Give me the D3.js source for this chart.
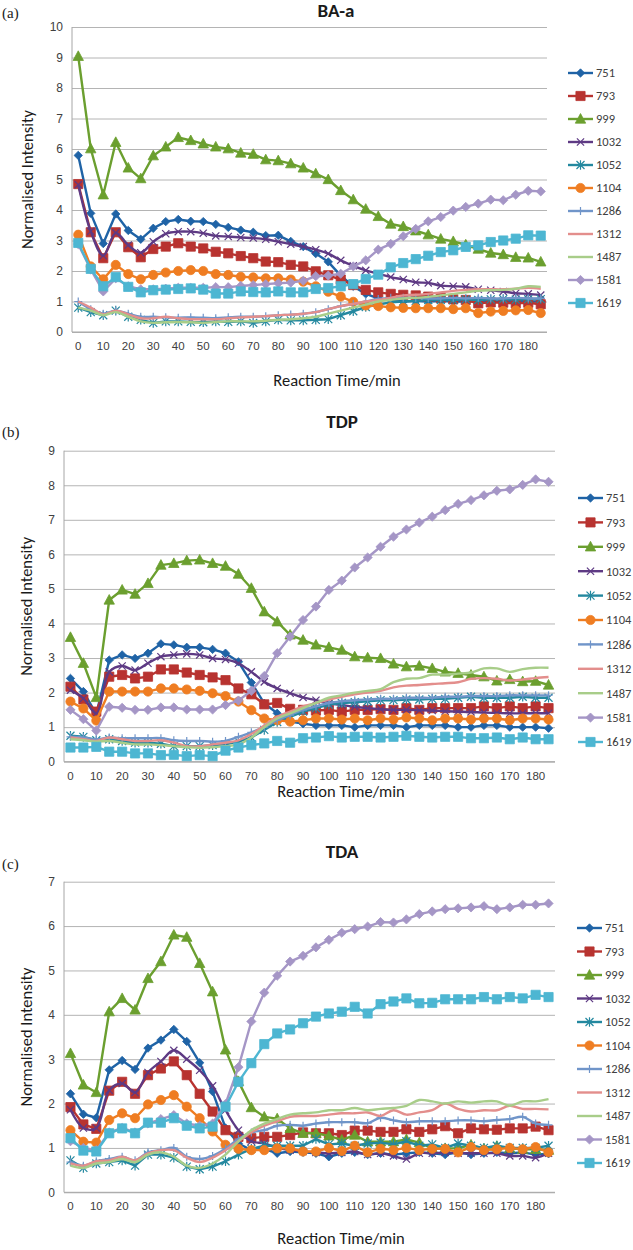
<!DOCTYPE html>
<html>
<head>
<meta charset="utf-8">
<script src="https://cdnjs.cloudflare.com/ajax/libs/d3/7.8.5/d3.min.js"></script>
<style>
  body { margin: 0; background: #fff; }
  svg { display: block; font-family: Carlito, "Open Sans", Lato, "Liberation Sans", sans-serif; }
</style>
</head>
<body>
<svg width="633" height="1250"></svg>
<script>
const minutes = [0, 5, 10, 15, 20, 25, 30, 35, 40, 45, 50, 55, 60, 65, 70, 75, 80, 85, 90, 95,
  100, 105, 110, 115, 120, 125, 130, 135, 140, 145, 150, 155, 160, 165, 170, 175, 180, 185];
const tickMinutes = [0, 10, 20, 30, 40, 50, 60, 70, 80, 90, 100, 110, 120, 130, 140, 150, 160, 170, 180];
const bands = ["751", "793", "999", "1032", "1052", "1104", "1286", "1312", "1487", "1581", "1619"];

// (a) BA-a
const baa751 = [5.79, 3.89, 2.9, 3.87, 3.33, 3.04, 3.4, 3.62, 3.69, 3.63, 3.62, 3.53, 3.43, 3.34, 3.27, 3.16, 3.17, 2.97,
  2.8, 2.57, 2.3, 1.85, 1.5, 1.25, 1.1, 1.05, 1.0, 1.02, 1.0, 1.02, 1.0, 1.0, 1.02, 1.0, 1.0, 1.02, 1.0, 1.0];
const baa793 = [4.85, 3.27, 2.42, 3.27, 2.78, 2.45, 2.72, 2.8, 2.91, 2.8, 2.74, 2.63, 2.58, 2.49, 2.42, 2.31, 2.29, 2.2,
  2.15, 1.99, 1.86, 1.72, 1.54, 1.38, 1.3, 1.25, 1.22, 1.2, 1.16, 1.12, 1.07, 1.05, 0.94, 0.97, 0.96, 0.94, 0.96, 0.91];
const baa999 = [9.04, 6.01, 4.5, 6.22, 5.38, 5.03, 5.78, 6.07, 6.38, 6.28, 6.17, 6.07, 6.01, 5.87, 5.83, 5.65, 5.62, 5.52,
  5.38, 5.19, 5.0, 4.64, 4.34, 4.03, 3.79, 3.54, 3.46, 3.32, 3.19, 3.05, 2.97, 2.86, 2.72, 2.59, 2.54, 2.45, 2.43, 2.3];
const baa1032 = [4.83, 3.3, 2.5, 3.25, 2.85, 2.6, 2.96, 3.22, 3.29, 3.29, 3.24, 3.15, 3.13, 3.1, 3.08, 3.04, 2.96, 2.88,
  2.8, 2.7, 2.57, 2.35, 2.17, 2.02, 1.91, 1.8, 1.72, 1.63, 1.61, 1.52, 1.5, 1.48, 1.4, 1.37, 1.33, 1.27, 1.25, 1.21];
const baa1052 = [0.8, 0.65, 0.55, 0.7, 0.5, 0.4, 0.3, 0.35, 0.35, 0.33, 0.32, 0.35, 0.33, 0.35, 0.3, 0.35, 0.4, 0.38,
  0.38, 0.4, 0.42, 0.55, 0.68, 0.82, 0.9, 0.97, 1.0, 1.02, 1.05, 1.05, 1.05, 1.07, 1.05, 1.07, 1.08, 1.06, 1.08, 1.08];
const baa1104 = [3.19, 2.15, 1.73, 2.2, 1.9, 1.73, 1.87, 1.95, 2.0, 2.03, 2.0, 1.9, 1.87, 1.81, 1.79, 1.76, 1.76, 1.72,
  1.65, 1.5, 1.32, 1.16, 0.99, 0.87, 0.85, 0.81, 0.79, 0.78, 0.78, 0.78, 0.75, 0.78, 0.62, 0.67, 0.69, 0.71, 0.72, 0.62];
const baa1286 = [1.0, 0.75, 0.6, 0.7, 0.6, 0.5, 0.5, 0.48, 0.47, 0.48, 0.47, 0.45, 0.48, 0.5, 0.5, 0.52, 0.55, 0.57,
  0.6, 0.65, 0.75, 0.85, 0.92, 1.0, 1.08, 1.12, 1.12, 1.12, 1.1, 1.1, 1.12, 1.1, 1.12, 1.1, 1.1, 1.12, 1.1, 1.1];
const baa1312 = [1.0, 0.8, 0.58, 0.7, 0.58, 0.45, 0.45, 0.5, 0.45, 0.42, 0.42, 0.42, 0.45, 0.48, 0.5, 0.52, 0.55, 0.57,
  0.6, 0.65, 0.75, 0.85, 0.92, 1.0, 1.05, 1.12, 1.2, 1.22, 1.25, 1.3, 1.35, 1.38, 1.4, 1.4, 1.4, 1.42, 1.45, 1.42];
const baa1487 = [0.8, 0.7, 0.55, 0.65, 0.5, 0.35, 0.3, 0.32, 0.33, 0.32, 0.3, 0.33, 0.35, 0.35, 0.35, 0.37, 0.4, 0.42,
  0.45, 0.5, 0.6, 0.7, 0.8, 0.9, 1.0, 1.05, 1.1, 1.12, 1.15, 1.2, 1.25, 1.3, 1.35, 1.37, 1.38, 1.42, 1.5, 1.48];
const baa1581 = [2.88, 2.05, 1.33, 1.76, 1.5, 1.4, 1.4, 1.42, 1.45, 1.45, 1.45, 1.47, 1.47, 1.51, 1.54, 1.57, 1.6, 1.62,
  1.68, 1.83, 1.85, 1.91, 2.15, 2.35, 2.7, 2.89, 3.14, 3.38, 3.63, 3.77, 3.98, 4.1, 4.21, 4.34, 4.32, 4.5, 4.63, 4.61];
const baa1619 = [2.92, 2.07, 1.5, 1.8, 1.48, 1.3, 1.37, 1.39, 1.41, 1.43, 1.39, 1.26, 1.26, 1.33, 1.31, 1.3, 1.33, 1.3,
  1.3, 1.41, 1.44, 1.5, 1.57, 1.74, 1.88, 2.12, 2.26, 2.39, 2.5, 2.62, 2.68, 2.79, 2.84, 2.95, 3.0, 3.06, 3.17, 3.16];

// (b) TDP
const tdp751 = [2.41, 2.03, 1.38, 2.94, 3.09, 2.99, 3.14, 3.41, 3.38, 3.31, 3.31, 3.25, 3.14, 2.89, 2.29, 1.69, 1.4, 1.16,
  1.1, 1.05, 1.05, 1.05, 1.0, 1.05, 1.05, 1.05, 1.0, 1.05, 1.05, 1.05, 1.0, 1.0, 1.05, 1.05, 1.0, 1.0, 1.0, 0.97];
const tdp793 = [2.17, 1.8, 1.45, 2.46, 2.51, 2.41, 2.46, 2.67, 2.67, 2.58, 2.51, 2.44, 2.36, 2.12, 1.95, 1.66, 1.7, 1.53,
  1.5, 1.48, 1.5, 1.45, 1.5, 1.5, 1.52, 1.5, 1.55, 1.5, 1.55, 1.55, 1.55, 1.55, 1.6, 1.55, 1.6, 1.55, 1.6, 1.55];
const tdp999 = [3.6, 2.85, 1.86, 4.68, 4.97, 4.85, 5.16, 5.69, 5.74, 5.82, 5.84, 5.74, 5.66, 5.43, 5.02, 4.34, 4.05, 3.67,
  3.52, 3.38, 3.31, 3.23, 3.04, 3.01, 2.99, 2.83, 2.75, 2.77, 2.7, 2.6, 2.56, 2.51, 2.46, 2.34, 2.38, 2.32, 2.33, 2.22];
const tdp1032 = [2.07, 1.83, 1.4, 2.6, 2.77, 2.65, 2.85, 3.04, 3.09, 3.12, 3.09, 2.99, 2.96, 2.85, 2.6, 2.31, 2.12, 1.98,
  1.86, 1.78, 1.69, 1.64, 1.59, 1.55, 1.52, 1.5, 1.5, 1.49, 1.48, 1.46, 1.45, 1.44, 1.42, 1.41, 1.4, 1.4, 1.4, 1.4];
const tdp1052 = [0.75, 0.72, 0.62, 0.65, 0.6, 0.55, 0.55, 0.52, 0.45, 0.45, 0.45, 0.48, 0.5, 0.58, 0.7, 0.92, 1.15, 1.3,
  1.45, 1.55, 1.65, 1.7, 1.72, 1.75, 1.78, 1.78, 1.8, 1.8, 1.82, 1.82, 1.85, 1.88, 1.85, 1.85, 1.85, 1.88, 1.85, 1.85];
const tdp1104 = [1.74, 1.54, 1.19, 2.03, 2.03, 2.03, 2.03, 2.12, 2.12, 2.09, 2.05, 1.98, 1.9, 1.74, 1.49, 1.25, 1.2, 1.16,
  1.2, 1.25, 1.25, 1.22, 1.25, 1.2, 1.25, 1.22, 1.28, 1.25, 1.2, 1.25, 1.25, 1.22, 1.25, 1.25, 1.2, 1.25, 1.25, 1.22];
const tdp1286 = [0.72, 0.7, 0.65, 0.7, 0.68, 0.68, 0.68, 0.68, 0.62, 0.6, 0.6, 0.58, 0.6, 0.72, 0.85, 1.0, 1.2, 1.35,
  1.5, 1.6, 1.7, 1.75, 1.78, 1.8, 1.82, 1.82, 1.85, 1.85, 1.85, 1.88, 1.88, 1.9, 1.9, 1.9, 1.92, 1.92, 1.92, 1.92];
const tdp1312 = [0.7, 0.65, 0.6, 0.7, 0.65, 0.6, 0.6, 0.62, 0.55, 0.45, 0.45, 0.5, 0.55, 0.62, 0.8, 1.05, 1.3, 1.45,
  1.6, 1.7, 1.8, 1.88, 1.95, 2.0, 2.05, 2.15, 2.2, 2.22, 2.25, 2.27, 2.3, 2.4, 2.42, 2.4, 2.35, 2.38, 2.42, 2.45];
const tdp1487 = [0.65, 0.62, 0.58, 0.6, 0.55, 0.5, 0.5, 0.48, 0.45, 0.42, 0.4, 0.42, 0.45, 0.5, 0.7, 1.0, 1.25, 1.4,
  1.55, 1.7, 1.85, 1.92, 2.0, 2.05, 2.1, 2.3, 2.4, 2.42, 2.52, 2.52, 2.55, 2.58, 2.7, 2.7, 2.6, 2.68, 2.72, 2.72];
const tdp1581 = [1.5, 1.23, 0.9, 1.59, 1.56, 1.5, 1.5, 1.57, 1.57, 1.51, 1.51, 1.51, 1.64, 1.77, 2.05, 2.48, 3.14, 3.62,
  4.1, 4.49, 4.97, 5.24, 5.62, 5.91, 6.22, 6.51, 6.72, 6.92, 7.09, 7.28, 7.46, 7.57, 7.71, 7.84, 7.88, 8.01, 8.17, 8.1];
const tdp1619 = [0.41, 0.41, 0.43, 0.29, 0.29, 0.24, 0.24, 0.19, 0.2, 0.16, 0.19, 0.16, 0.32, 0.41, 0.48, 0.53, 0.6, 0.55,
  0.68, 0.7, 0.74, 0.7, 0.72, 0.72, 0.7, 0.72, 0.75, 0.72, 0.7, 0.72, 0.72, 0.68, 0.68, 0.7, 0.65, 0.7, 0.65, 0.65];

// (c) TDA
const tda751 = [2.22, 1.76, 1.68, 2.76, 2.97, 2.77, 3.25, 3.43, 3.67, 3.4, 2.92, 2.27, 1.45, 1.1, 0.95, 0.98, 0.88, 0.92,
  0.9, 0.88, 0.8, 0.88, 0.9, 0.85, 0.88, 0.85, 0.88, 0.9, 0.88, 0.85, 0.9, 0.85, 0.88, 0.9, 0.88, 0.9, 0.85, 0.87];
const tda793 = [1.92, 1.53, 1.43, 2.29, 2.49, 2.22, 2.64, 2.79, 2.95, 2.64, 2.22, 1.82, 1.4, 1.25, 1.22, 1.25, 1.25, 1.29,
  1.35, 1.33, 1.33, 1.29, 1.39, 1.39, 1.36, 1.36, 1.42, 1.36, 1.42, 1.49, 1.33, 1.44, 1.42, 1.41, 1.44, 1.44, 1.48, 1.4];
const tda999 = [3.13, 2.42, 2.25, 4.07, 4.37, 4.11, 4.82, 5.2, 5.8, 5.75, 5.16, 4.52, 3.21, 2.5, 1.91, 1.7, 1.66, 1.44,
  1.33, 1.33, 1.27, 1.18, 1.29, 1.14, 1.14, 1.14, 1.19, 1.12, 0.99, 0.99, 0.99, 1.07, 0.98, 1.04, 0.99, 0.97, 0.97, 0.95];
const tda1032 = [1.86, 1.45, 1.45, 2.3, 2.45, 2.25, 2.7, 2.95, 3.2, 3.0, 2.75, 2.4, 1.85, 1.4, 1.15, 1.1, 1.0, 0.95,
  0.92, 0.9, 0.88, 0.9, 0.92, 0.85, 0.88, 0.82, 0.75, 0.88, 0.88, 0.9, 0.88, 0.88, 0.88, 0.88, 0.82, 0.82, 0.78, 0.88];
const tda1052 = [0.72, 0.55, 0.65, 0.68, 0.72, 0.6, 0.85, 0.85, 0.78, 0.58, 0.52, 0.58, 0.7, 0.85, 0.98, 1.05, 1.05, 1.05,
  1.05, 1.2, 1.08, 1.1, 1.05, 1.1, 1.12, 1.08, 1.15, 1.05, 1.08, 1.0, 1.1, 1.05, 1.0, 1.05, 1.0, 1.0, 1.0, 1.05];
const tda1104 = [1.4, 1.14, 1.12, 1.63, 1.78, 1.67, 1.98, 2.08, 2.19, 1.93, 1.67, 1.37, 1.07, 0.98, 0.95, 0.95, 0.99, 0.99,
  0.92, 0.92, 1.0, 0.93, 1.05, 0.9, 0.98, 0.95, 1.0, 0.95, 0.98, 0.98, 0.9, 1.02, 0.95, 0.97, 1.0, 0.97, 1.02, 0.9];
const tda1286 = [0.68, 0.6, 0.7, 0.75, 0.8, 0.72, 0.9, 0.95, 1.0, 0.8, 0.75, 0.82, 0.98, 1.2, 1.35, 1.4, 1.5, 1.52,
  1.5, 1.55, 1.58, 1.58, 1.58, 1.56, 1.68, 1.62, 1.58, 1.6, 1.6, 1.6, 1.62, 1.62, 1.6, 1.63, 1.65, 1.7, 1.55, 1.52];
const tda1312 = [0.65, 0.6, 0.7, 0.72, 0.8, 0.72, 0.88, 0.95, 0.95, 0.78, 0.68, 0.78, 0.95, 1.15, 1.35, 1.5, 1.6, 1.7,
  1.72, 1.72, 1.75, 1.78, 1.78, 1.8, 1.72, 1.85, 1.75, 1.8, 1.85, 2.0, 1.88, 1.82, 1.85, 1.85, 1.95, 1.88, 1.88, 1.87];
const tda1487 = [0.6, 0.55, 0.65, 0.68, 0.75, 0.68, 0.85, 0.9, 0.8, 0.6, 0.55, 0.65, 0.85, 1.15, 1.4, 1.55, 1.65, 1.75,
  1.78, 1.8, 1.85, 1.85, 1.9, 1.85, 1.88, 1.9, 1.95, 2.08, 2.05, 2.0, 2.05, 2.02, 2.05, 2.05, 1.95, 2.05, 2.05, 2.1];
const tda1581 = [1.15, 1.0, 0.95, 1.35, 1.45, 1.35, 1.55, 1.65, 1.74, 1.55, 1.5, 1.55, 1.99, 2.82, 3.85, 4.5, 4.88, 5.2,
  5.33, 5.52, 5.69, 5.85, 5.93, 5.99, 6.09, 6.08, 6.15, 6.27, 6.33, 6.38, 6.4, 6.42, 6.45, 6.38, 6.42, 6.48, 6.48, 6.51];
const tda1619 = [1.22, 0.94, 0.92, 1.33, 1.44, 1.33, 1.57, 1.57, 1.67, 1.5, 1.44, 1.48, 1.93, 2.49, 2.91, 3.34, 3.58, 3.67,
  3.81, 3.96, 4.03, 4.07, 4.18, 4.03, 4.24, 4.3, 4.37, 4.26, 4.27, 4.35, 4.35, 4.35, 4.4, 4.35, 4.4, 4.37, 4.45, 4.4];

// series look, same order as bands
const colors = ["#1f63a6", "#b83330", "#6b9f2f", "#5e3a84", "#23889f", "#ef7d22",
  "#7095c9", "#e38e8c", "#a8cd89", "#a596c6", "#4db6d2"];
const markers = ["diamond", "square", "triangle", "x", "star", "circle", "plus", null, null, "diamond", "square"];
const markerSize = [4.2, 4.6, 5.2, 3.6, 4, 4.6, 4, 0, 0, 4.6, 4.6];
const smooth = [false, false, false, true, false, false, true, true, true, false, false];

const panels = [
  { tag: "(a)", title: "BA-a", yMax: 10, data: [baa751, baa793, baa999, baa1032, baa1052, baa1104, baa1286, baa1312, baa1487, baa1581, baa1619],
    left: 72, right: 547, top: 27, bottom: 332, tagY: 18, titleX: 336, titleY: 17, yTitleX: 27,
    xTickY: 349, xTitleX: 337, xTitleY: 386, legX: 568, legY: 73, legStep: 23 },
  { tag: "(b)", title: "TDP", yMax: 9, data: [tdp751, tdp793, tdp999, tdp1032, tdp1052, tdp1104, tdp1286, tdp1312, tdp1487, tdp1581, tdp1619],
    left: 64, right: 555, top: 450.7, bottom: 761.7, tagY: 437, titleX: 342, titleY: 428, yTitleX: 26,
    xTickY: 779, xTitleX: 341, xTitleY: 797, legX: 578, legY: 498, legStep: 24.4 },
  { tag: "(c)", title: "TDA", yMax: 7, data: [tda751, tda793, tda999, tda1032, tda1052, tda1104, tda1286, tda1312, tda1487, tda1581, tda1619],
    left: 64, right: 555, top: 881.7, bottom: 1192.3, tagY: 869, titleX: 342, titleY: 858, yTitleX: 26,
    xTickY: 1209, xTitleX: 341, xTitleY: 1244, legX: 577, legY: 928, legStep: 23.5 }
];

const svg = d3.select("svg");
svg.append("rect").attr("width", 633).attr("height", 1250).attr("fill", "#fff");

function markerPath(type, r) {
  switch (type) {
    case "diamond": return `M0,${-r}L${r},0L0,${r}L${-r},0Z`;
    case "square": return `M${-r},${-r}H${r}V${r}H${-r}Z`;
    case "triangle": return `M0,${-r * 1.05}L${r},${r * 0.8}L${-r},${r * 0.8}Z`;
    case "circle": return d3.symbol(d3.symbolCircle, Math.PI * r * r)();
    case "x": return `M${-r},${-r}L${r},${r}M${-r},${r}L${r},${-r}`;
    case "plus": return `M0,${-r}V${r}M${-r},0H${r}`;
    case "star": return `M${-r},${-r}L${r},${r}M${-r},${r}L${r},${-r}M0,${-r * 1.2}V${r * 1.2}`;
  }
  return "";
}

function drawMarker(sel, i) {
  const type = markers[i];
  if (!type) return;
  const open = type === "x" || type === "plus" || type === "star";
  sel.append("path")
    .attr("d", markerPath(type, markerSize[i]))
    .attr("fill", open ? "none" : colors[i])
    .attr("stroke", colors[i])
    .attr("stroke-width", open ? 1.2 : 0.8);
}

function drawPanel(p) {
  const g = svg.append("g");
  const x = d3.scaleBand().domain(minutes).range([p.left, p.right]);
  const y = d3.scaleLinear().domain([0, p.yMax]).range([p.bottom, p.top]);
  const cx = m => x(m) + x.bandwidth() / 2;

  // gridlines and y labels
  g.append("g")
    .attr("transform", `translate(${p.left},0)`)
    .call(d3.axisLeft(y).ticks(p.yMax).tickSize(-(p.right - p.left)).tickPadding(9))
    .call(a => a.select(".domain").remove())
    .call(a => a.selectAll(".tick line").attr("stroke", "#b4b4b4").attr("stroke-width", 1))
    .call(a => a.selectAll(".tick text").attr("fill", "#404040").attr("font-size", 12).attr("font-family", null));

  g.append("line").attr("x1", p.left).attr("x2", p.left).attr("y1", p.top).attr("y2", p.bottom)
    .attr("stroke", "#a6a6a6");
  g.append("line").attr("x1", p.left).attr("x2", p.right).attr("y1", p.bottom).attr("y2", p.bottom)
    .attr("stroke", "#a6a6a6");

  // x labels
  g.append("g")
    .attr("transform", `translate(0,${p.bottom})`)
    .call(d3.axisBottom(x).tickValues(tickMinutes).tickSize(0).tickPadding(p.xTickY - p.bottom - 7))
    .call(a => a.select(".domain").remove())
    .call(a => a.selectAll(".tick text").attr("fill", "#404040").attr("font-size", 11.5).attr("font-family", null));

  // series
  bands.forEach((name, i) => {
    const vals = p.data[i];
    const pts = minutes.map((m, k) => [cx(m), y(vals[k])]);
    const line = d3.line().curve(smooth[i] ? d3.curveCatmullRom.alpha(0.5) : d3.curveLinear);
    const s = g.append("g");
    s.append("path").attr("d", line(pts)).attr("fill", "none")
      .attr("stroke", colors[i]).attr("stroke-width", 2.4).attr("stroke-linejoin", "round");
    if (markers[i]) {
      s.selectAll("g.pt").data(pts).enter().append("g")
        .attr("transform", d => `translate(${d[0]},${d[1]})`)
        .each(function () { drawMarker(d3.select(this), i); });
    }
  });

  // legend
  const leg = g.append("g");
  bands.forEach((name, i) => {
    const ly = p.legY + i * p.legStep;
    leg.append("line").attr("x1", p.legX).attr("x2", p.legX + 25).attr("y1", ly).attr("y2", ly)
      .attr("stroke", colors[i]).attr("stroke-width", 2.4);
    drawMarker(leg.append("g").attr("transform", `translate(${p.legX + 12.5},${ly})`), i);
    leg.append("text").attr("x", p.legX + 28).attr("y", ly).attr("dy", "0.35em")
      .attr("font-size", 12.5).attr("fill", "#404040").text(name);
  });

  // titles
  svg.append("text").attr("x", 2).attr("y", p.tagY).attr("font-family", "'Liberation Serif', serif")
    .attr("font-size", 15).attr("fill", "#222").text(p.tag);
  svg.append("text").attr("x", p.titleX).attr("y", p.titleY).attr("text-anchor", "middle")
    .attr("font-size", 19).attr("font-weight", "bold").attr("fill", "#1a1a1a").text(p.title);
  svg.append("text").attr("transform", `translate(${p.yTitleX},${(p.top + p.bottom) / 2}) rotate(-90)`)
    .attr("text-anchor", "middle").attr("dy", "0.35em").attr("font-size", 16.5).attr("fill", "#1a1a1a")
    .text("Normalised Intensity");
  svg.append("text").attr("x", p.xTitleX).attr("y", p.xTitleY).attr("text-anchor", "middle")
    .attr("font-size", 16.5).attr("fill", "#1a1a1a").text("Reaction Time/min");
}

panels.forEach(drawPanel);
</script>
</body>
</html>
